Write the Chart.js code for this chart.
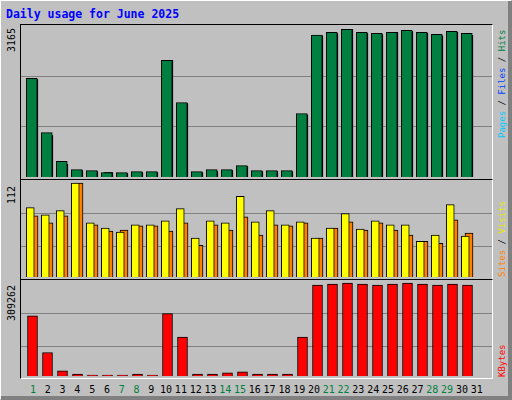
<!DOCTYPE html>
<html>
<head>
<meta charset="utf-8">
<script src="https://cdn.jsdelivr.net/npm/chart.js@4"></script>
<style>
  body { margin: 0; }
  #frame { position: relative; width: 510px; height: 398px; background: #c0c0c0; border: 1px solid #fff;
           border-right-color: #808080; border-bottom-color: #808080; overflow: hidden; font-family: "DejaVu Sans Mono", monospace; }
  #edge { position: absolute; right: 0; top: 0; width: 3px; height: 100%; background: #808080; }
  #edgeB { position: absolute; left: 0; bottom: 0; height: 3px; width: 100%; background: #808080; }
  .panel { position: absolute; left: 19px; width: 471px; border-top: 1px solid #000; border-left: 1px solid #000;
           border-right: 1px solid #fff; border-bottom: 1px solid #fff; background: #c0c0c0; }
  .panel canvas { position: absolute; left: 0; }
  .vt { position: absolute; transform-origin: left top; transform: rotate(-90deg); white-space: nowrap; font-size: 9px; }
  .lt { font-size: 10px; }
  .xl { position: absolute; top: 383px; font-size: 10px; width: 20px; margin-left: -10px; text-align: center; }
  #title { position: absolute; left: 5px; top: 6px; color: #0000ff; font-weight: bold; font-size: 11.5px; }
</style>
</head>
<body>
<div id="frame">
  <div id="edge"></div><div id="edgeB"></div>
  <div id="title">Daily usage for June 2025</div>
  <div class="panel" style="top:23px;height:154px"><div style="position:absolute;top:0;width:471px;height:152px"><canvas id="c1"></canvas></div></div>
  <div class="panel" style="top:178px;height:99px"><div style="position:absolute;top:0;width:471px;height:97px"><canvas id="c2"></canvas></div></div>
  <div class="panel" style="top:278px;height:98px"><div style="position:absolute;top:0;width:471px;height:96px"><canvas id="c3"></canvas></div></div>
  <div class="vt lt" style="left:5px;top:51px">3165</div>
  <div class="vt lt" style="left:5px;top:203px">112</div>
  <div class="vt lt" style="left:5px;top:320px">309262</div>
  <div class="vt" style="left:496px;top:137px"><span style="color:#00c8ff">Pages</span> / <span style="color:#0040ff">Files</span> / <span style="color:#008040">Hits</span></div>
  <div class="vt" style="left:496px;top:276px"><span style="color:#ff8000">Sites</span> / <span style="color:#e8e800">Visits</span></div>
  <div class="vt" style="left:496px;top:376px;color:#ff0000">KBytes</div>
  <div id="xlabels"></div>
</div>
<script>
const days = Array.from({length: 31}, (_, i) => i + 1);
const weekend = [1, 7, 8, 14, 15, 21, 22, 28, 29];
const hits  = [2052,925,327,153,132,90,90,111,111,2428,1551,111,153,153,237,132,132,132,1322,2956,3012,3075,3012,2991,3012,3054,3012,2970,3033,2991,0];
const files = [2031,862,264,132,111,90,70,90,90,2428,1530,90,111,132,216,111,111,111,1294,2942,2984,3068,2984,2963,3012,3033,2991,2942,3012,2949,0];
const pages = [2031,862,264,132,111,90,70,90,90,2428,1530,90,111,132,216,111,111,111,1294,2942,2984,3068,2984,2963,3012,3033,2991,2942,3012,2949,0];
const sites  = [82.8,74.3,79.1,112,64.5,58.4,53.6,62.1,62.1,67,81.6,46.3,67,64.5,96.2,65.7,79.1,62.1,65.7,46.3,58.4,75.5,57.2,67,62.1,62.1,42.6,49.9,86.4,48.7,0];
const visits = [73,64.5,73,112,62.1,54.8,56,60.9,60.9,54.8,64.5,37.7,62.1,56,71.8,49.9,62.1,60.9,64.5,46.3,58.4,65.7,56,64.5,56,49.9,42.6,40.2,68.2,52.3,0];
const kbytes = [200500,78170,17000,6800,3400,3400,3400,6800,3400,207300,129100,6800,6800,10200,13600,6800,6800,6800,129100,302500,305900,309262,305900,302500,305900,309262,305900,302500,305900,302500,0];

const xMin = 0.233, xMax = 31.633;

const gridPlugin = {
  id: 'grid',
  beforeDatasetsDraw(chart, args, opts) {
    const ctx = chart.ctx, y = chart.scales.y, a = chart.chartArea;
    ctx.save();
    ctx.strokeStyle = '#808080';
    ctx.lineWidth = 1;
    opts.lines.forEach(v => {
      const py = Math.round(y.getPixelForValue(v)) + 0.5;
      ctx.beginPath(); ctx.moveTo(a.left, py); ctx.lineTo(a.right, py); ctx.stroke();
    });
    ctx.restore();
  }
};

function ds(values, off, color, width) {
  return {
    data: values.map((v, i) => ({x: days[i] + off, y: v})).filter(p => p.y > 0),
    backgroundColor: color, borderColor: '#000', borderWidth: 1,
    barThickness: width, borderSkipped: 'bottom', grouped: false
  };
}

function make(id, datasets, max, lines) {
  new Chart(document.getElementById(id), {
    type: 'bar',
    data: {datasets},
    options: {
      responsive: true, maintainAspectRatio: false, animation: false,
      layout: {padding: 0},
      plugins: {legend: {display: false}, tooltip: {enabled: false}, grid: {lines}},
      scales: {
        x: {type: 'linear', min: xMin, max: xMax, offset: false, display: false},
        y: {min: 0, max, display: false}
      }
    },
    plugins: [gridPlugin]
  });
}

make('c1', [ds(hits, -0.05, '#008040', 11), ds(files, 0.05, '#0040ff', 9), ds(pages, 0.1, '#00e0ff', 8)], 3165, [1055, 2110]);
make('c2', [ds(sites, -0.15, '#ffff00', 8), ds(visits, 0.1, '#ff8000', 8)], 115.7, [36.5, 76.7]);
make('c3', [ds(kbytes, 0, '#ff0000', 10)], 319458, [98557, 210708]);

document.getElementById('xlabels').innerHTML = days.map(d =>
  `<div class="xl" style="left:${32 + 14.79 * (d - 1)}px;color:${weekend.includes(d) ? '#008040' : '#000'}">${d}</div>`
).join('');
</script>
</body>
</html>
